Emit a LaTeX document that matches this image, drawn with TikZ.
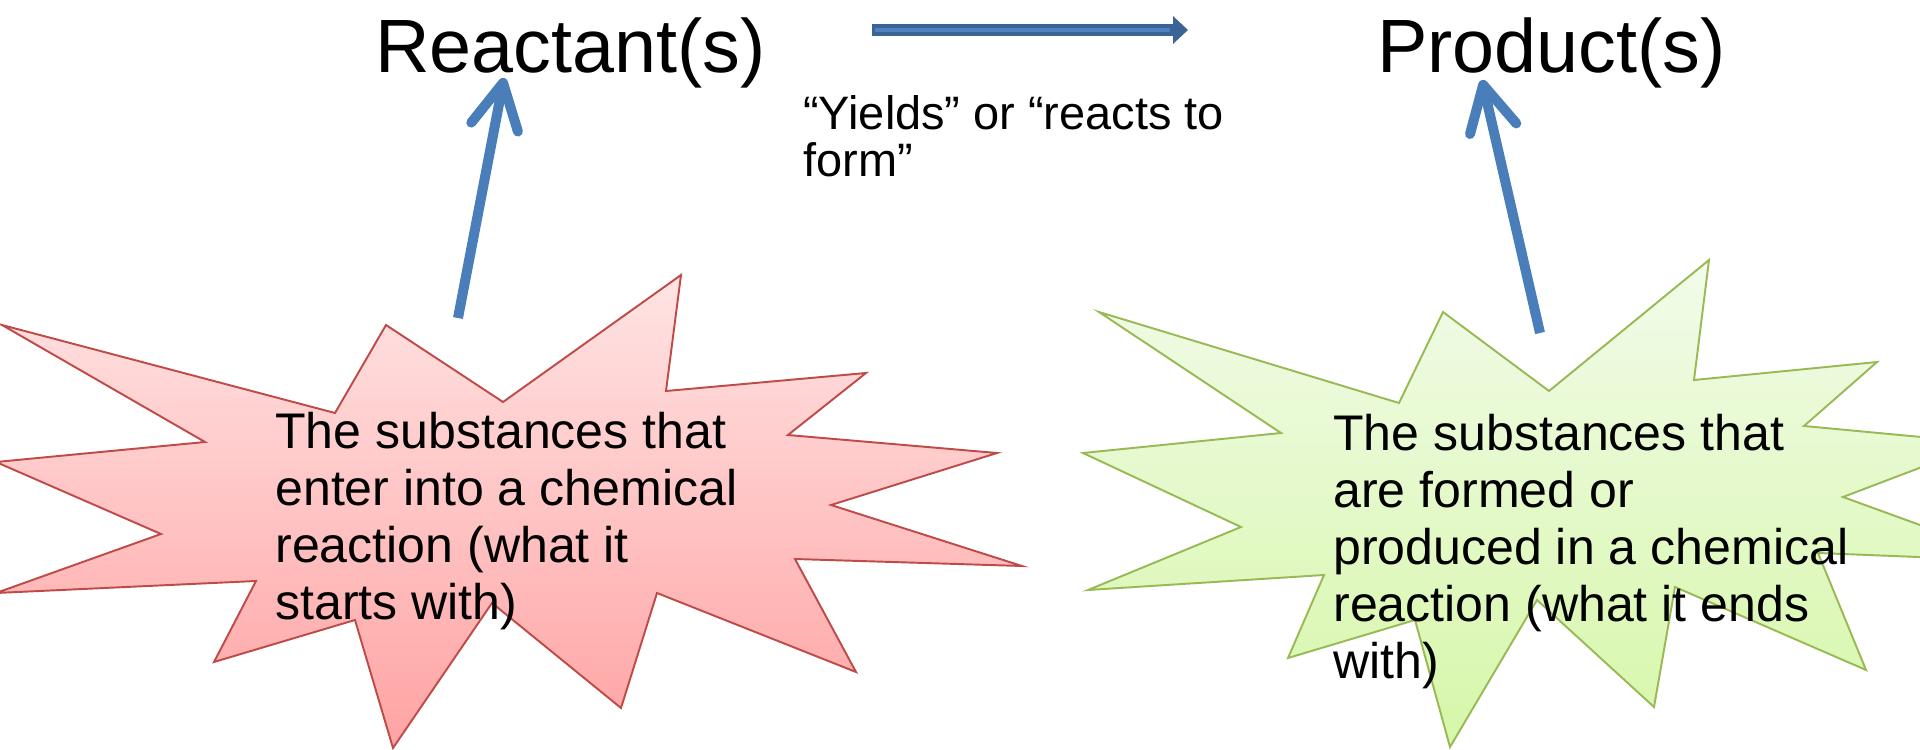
\documentclass[tikz,border=0pt]{standalone}
\usepackage{fontspec}
\setmainfont{Liberation Sans}
\usepackage{xcolor}
\usetikzlibrary{arrows.meta}
\definecolor{reddraw}{HTML}{BE4B48}
\definecolor{redtop}{HTML}{FFE4E4}
\definecolor{redbot}{HTML}{FFA3A3}
\definecolor{grndraw}{HTML}{98B954}
\definecolor{grntop}{HTML}{F2FBEA}
\definecolor{grnbot}{HTML}{D6F7A8}
\definecolor{arrblue}{HTML}{4A7EBB}
\definecolor{arrdark}{HTML}{3B6496}
\definecolor{arrlight}{HTML}{4F81BD}

\begin{document}
\begin{tikzpicture}[
  x=0.02cm,y=-0.02cm,
  title/.style={font=\fontsize{43}{50}\selectfont,inner sep=0pt,anchor=base west},
  desc/.style={font=\fontsize{28.5}{32.4}\selectfont,align=left,inner sep=0pt,anchor=base west},
  note/.style={font=\fontsize{26.7}{26.6}\selectfont,align=left,inner sep=0pt,anchor=base west},
  redstar/.style={draw=reddraw,line width=1.1pt,top color=redtop,bottom color=redbot},
  grnstar/.style={draw=grndraw,line width=1.1pt,top color=grntop,bottom color=grnbot},
  uparr/.style={arrblue,line width=0.2cm,-{Straight Barb[round,length=0.9cm,width=0.95cm]}},
  yarr/.style={arrdark,line width=0.24cm,-{Triangle[length=0.3cm,width=0.54cm]}},
  yinner/.style={arrlight,line width=0.08cm,shorten <=0.05cm,shorten >=0.36cm}
]
\useasboundingbox (0,0) rectangle (1920,750);

% reactant side
\draw[redstar] (2,325) -- (335,413) -- (386,325) -- (503,402) -- (681,275)
  -- (666,391) -- (866,373) -- (788,435) -- (997,453) -- (831,505)
  -- (1022,566) -- (795,559) -- (856,672) -- (657,593) -- (621,708)
  -- (492,603) -- (393,748) -- (355,620) -- (214,662) -- (256,581)
  -- (-4,593) -- (161,534) -- (-4,462) -- (205,442) -- cycle;
\node[title] (react) at (375,72) {Reactant(s)};
% base = last line
\node[desc] (rdesc) at (275,619) {The substances that\\enter into a chemical\\reaction (what it\\starts with)};
\coordinate (rtail) at (458,318);
\draw[uparr] (rtail) -- ([shift={(129,6)}]react.base west);

% product side
\draw[grnstar] (1099,312) -- (1399,403) -- (1443,312) -- (1549,391) -- (1709,260)
  -- (1694,380) -- (1877,362) -- (1804,426) -- (1985,443) -- (1843,497)
  -- (2019,561) -- (1818,553) -- (1866,670) -- (1675,587) -- (1654,707)
  -- (1537,600) -- (1450,747) -- (1415,620) -- (1288,658) -- (1324,575)
  -- (1088,590) -- (1241,527) -- (1083,453) -- (1281,433) -- cycle;
\node[title] (prod) at (1377,72) {Product(s)};
\node[desc] (pdesc) at (1333,678) {The substances that\\are formed or\\produced in a chemical\\reaction (what it ends\\with)};
\coordinate (ptail) at (1540,333);
\draw[uparr] (ptail) -- ([shift={(105,8)}]prod.base west);

% yields arrow
\coordinate (yl) at (872,30);
\coordinate (yr) at (1188,30);
\draw[yarr] (yl) -- (yr);
\draw[yinner] (yl) -- (yr);
\node[note] (yields) at (803,176) {“Yields” or “reacts to\\form”};
\end{tikzpicture}
\end{document}
